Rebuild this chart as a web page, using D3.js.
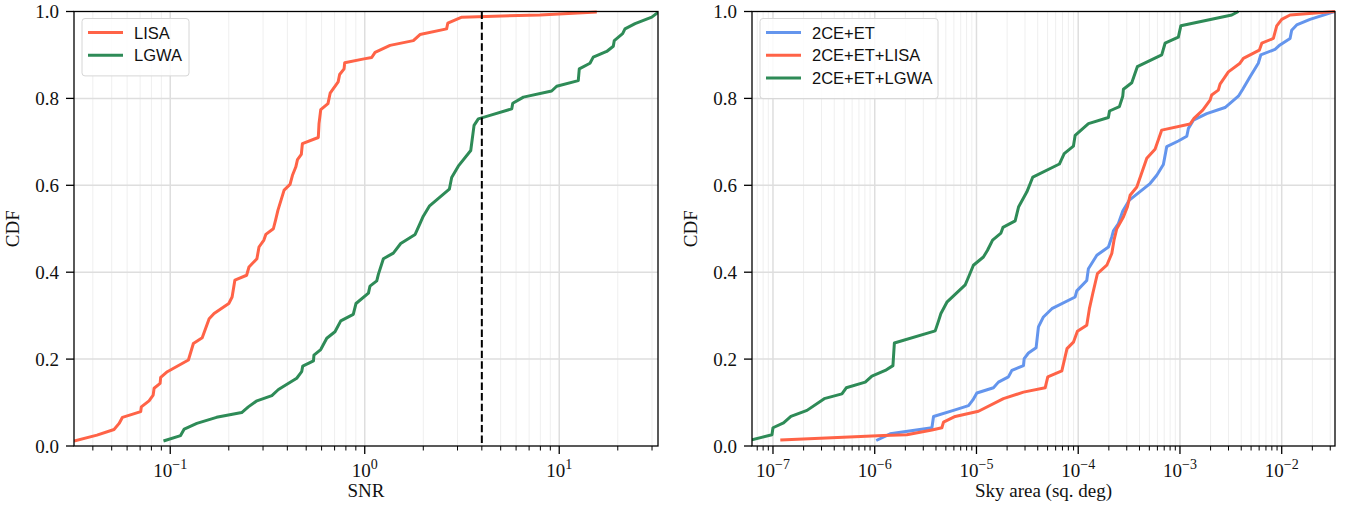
<!DOCTYPE html>
<html>
<head>
<meta charset="utf-8" />
<title>CDF</title>
<script src="https://d3js.org/d3.v7.min.js"></script>
<style>
  body { margin: 0; background: #fff; }
  svg text { fill: #111; }
</style>
</head>
<body>
<svg id="chart" width="1356" height="510"></svg>
<script>
// SNR cdf, left panel
const lisaSnr = [0.032, 0.042, 0.0514, 0.0546, 0.0568, 0.0705, 0.0710, 0.0778, 0.0817, 0.0826,
  0.0887, 0.0893, 0.0966, 0.124, 0.1315, 0.146, 0.1585, 0.168, 0.200, 0.208,
  0.215, 0.247, 0.254, 0.279, 0.286, 0.303, 0.310, 0.339, 0.348, 0.358,
  0.385, 0.413, 0.425, 0.442, 0.451, 0.472, 0.478, 0.577, 0.582, 0.594,
  0.647, 0.664, 0.730, 0.743, 0.783, 0.789, 0.991, 1.086, 1.130, 1.349,
  1.778, 1.923, 2.636, 2.673, 3.155, 7.96, 15.6];
const lisaCdf = [0.0115, 0.025, 0.038, 0.052, 0.066, 0.079, 0.090, 0.104, 0.117, 0.133,
  0.144, 0.158, 0.171, 0.198, 0.236, 0.249, 0.293, 0.305, 0.328, 0.343,
  0.382, 0.393, 0.412, 0.431, 0.458, 0.474, 0.487, 0.500, 0.520, 0.543,
  0.589, 0.602, 0.623, 0.642, 0.659, 0.671, 0.696, 0.710, 0.742, 0.774,
  0.788, 0.812, 0.838, 0.855, 0.868, 0.882, 0.891, 0.894, 0.906, 0.922,
  0.933, 0.947, 0.960, 0.973, 0.987, 0.992, 0.999];

const lgwaSnr = [0.0923, 0.113, 0.118, 0.137, 0.173, 0.233, 0.252, 0.279, 0.333, 0.360,
  0.447, 0.474, 0.480, 0.545, 0.548, 0.594, 0.638, 0.703, 0.753, 0.873,
  0.902, 1.045, 1.064, 1.153, 1.175, 1.247, 1.403, 1.531, 1.816, 1.923,
  2.000, 2.148, 2.723, 2.799, 3.027, 3.508, 3.648, 3.837, 4.406, 5.702,
  5.768, 6.546, 9.141, 9.705, 12.53, 12.68, 14.39, 14.96, 17.54, 18.97,
  19.19, 21.18, 21.78, 24.55, 29.92, 32.2];
const lgwaCdf = [0.0115, 0.024, 0.039, 0.052, 0.066, 0.077, 0.090, 0.104, 0.116, 0.130,
  0.156, 0.171, 0.184, 0.196, 0.209, 0.222, 0.248, 0.263, 0.288, 0.303,
  0.328, 0.352, 0.368, 0.380, 0.395, 0.431, 0.444, 0.466, 0.487, 0.512,
  0.529, 0.552, 0.591, 0.618, 0.644, 0.680, 0.738, 0.753, 0.761, 0.776,
  0.789, 0.803, 0.817, 0.828, 0.841, 0.868, 0.881, 0.895, 0.908, 0.920,
  0.933, 0.949, 0.960, 0.972, 0.987, 0.998];

const snrThreshold = 4;

// sky area cdf, right panel
const etArea = [1.035e-6, 1.419e-6, 3.648e-6, 3.784e-6, 5.943e-6, 8.356e-6, 9.226e-6, 1.009e-5, 1.469e-5, 1.644e-5,
  2.061e-5, 2.228e-5, 2.897e-5, 2.944e-5, 3.243e-5, 3.855e-5, 4.064e-5, 4.550e-5, 5.508e-5, 9.33e-5,
  9.68e-5, 1.213e-4, 1.259e-4, 1.524e-4, 1.982e-4, 2.138e-4, 2.218e-4, 2.483e-4, 2.742e-4, 3.184e-4,
  5.082e-4, 5.916e-4, 6.871e-4, 7.413e-4, 9.64e-4, 1.167e-3, 1.211e-3, 1.355e-3, 1.832e-3, 2.773e-3,
  3.750e-3, 4.140e-3, 4.887e-3, 5.888e-3, 6.223e-3, 8.590e-3, 9.616e-3, 1.208e-2, 1.253e-2, 1.403e-2,
  1.897e-2, 3.342e-2];
const etCdf = [0.0127, 0.028, 0.042, 0.068, 0.082, 0.093, 0.106, 0.122, 0.134, 0.147,
  0.159, 0.174, 0.185, 0.201, 0.214, 0.226, 0.274, 0.297, 0.316, 0.343,
  0.357, 0.381, 0.408, 0.439, 0.458, 0.481, 0.495, 0.512, 0.541, 0.566,
  0.604, 0.623, 0.648, 0.689, 0.702, 0.713, 0.731, 0.750, 0.765, 0.779,
  0.805, 0.821, 0.850, 0.881, 0.900, 0.913, 0.923, 0.938, 0.957, 0.969,
  0.982, 1.0];

const etLisaArea = [1.180e-7, 1.219e-6, 2.070e-6, 3.648e-6, 4.571e-6, 4.742e-6, 6.180e-6, 1.047e-5, 1.841e-5, 2.897e-5,
  4.732e-5, 5.023e-5, 6.902e-5, 7.76e-5, 8.97e-5, 9.82e-5, 1.213e-4, 1.288e-4, 1.390e-4, 1.545e-4,
  1.910e-4, 2.138e-4, 2.254e-4, 2.393e-4, 2.780e-4, 3.041e-4, 3.236e-4, 3.767e-4, 4.721e-4, 5.689e-4,
  6.62e-4, 1.256e-3, 1.374e-3, 1.675e-3, 1.977e-3, 2.051e-3, 2.382e-3, 2.477e-3, 2.992e-3, 3.890e-3,
  4.198e-3, 6.026e-3, 6.368e-3, 8.279e-3, 8.933e-3, 1.0e-2, 1.208e-2, 3.342e-2];
const etLisaCdf = [0.014, 0.024, 0.026, 0.037, 0.042, 0.055, 0.068, 0.080, 0.109, 0.124,
  0.134, 0.159, 0.173, 0.224, 0.239, 0.264, 0.278, 0.316, 0.351, 0.397,
  0.416, 0.443, 0.475, 0.500, 0.527, 0.550, 0.577, 0.596, 0.662, 0.683,
  0.727, 0.741, 0.754, 0.773, 0.796, 0.808, 0.819, 0.833, 0.861, 0.881,
  0.892, 0.911, 0.927, 0.938, 0.967, 0.982, 0.992, 1.0];

const etLgwaArea = [6.2e-8, 9.77e-8, 1.0e-7, 1.27e-7, 1.50e-7, 2.16e-7, 3.19e-7, 4.76e-7, 5.25e-7, 8.07e-7,
  9.38e-7, 1.27e-6, 1.51e-6, 1.56e-6, 3.93e-6, 4.24e-6, 4.47e-6, 5.12e-6, 7.75e-6, 8.36e-6,
  9.33e-6, 1.17e-5, 1.28e-5, 1.44e-5, 1.74e-5, 1.82e-5, 2.40e-5, 2.59e-5, 3.13e-5, 3.58e-5,
  6.53e-5, 7.28e-5, 8.97e-5, 9.33e-5, 1.26e-4, 1.98e-4, 2.03e-4, 2.54e-4, 2.74e-4, 2.78e-4,
  3.36e-4, 3.81e-4, 6.62e-4, 7.14e-4, 9.64e-4, 1.02e-3, 3.23e-3, 3.75e-3];
const etLgwaCdf = [0.014, 0.026, 0.042, 0.053, 0.068, 0.082, 0.109, 0.120, 0.134, 0.147,
  0.161, 0.174, 0.185, 0.237, 0.265, 0.288, 0.305, 0.331, 0.371, 0.389,
  0.416, 0.435, 0.450, 0.474, 0.490, 0.503, 0.518, 0.550, 0.585, 0.619,
  0.649, 0.673, 0.690, 0.715, 0.742, 0.756, 0.771, 0.781, 0.805, 0.821,
  0.836, 0.873, 0.900, 0.927, 0.941, 0.967, 0.992, 1.0];

const cdfTicks = [0, 0.2, 0.4, 0.6, 0.8, 1.0];

const RED = '#ff6347', GREEN = '#2e8b57', BLUE = '#6495ed';
const serif = "'Liberation Serif', 'DejaVu Serif', serif";
const sans = "'Liberation Sans', Arial, sans-serif";

const svg = d3.select('#chart');
const plotTop = 11.5, plotBottom = 446;

function zip(xs, ys) { return xs.map((x, i) => ({ x: x, y: ys[i] })); }

function drawPanel(p) {
  const x = d3.scaleLog().domain(p.domain).range([p.left, p.right]);
  const y = d3.scaleLinear().domain([0, 1]).range([plotBottom, plotTop]);
  const g = svg.append('g');

  // minor ticks for the log axis
  const lo = Math.floor(Math.log10(p.domain[0])), hi = Math.ceil(Math.log10(p.domain[1]));
  const minor = [], major = [];
  for (let k = lo; k <= hi; k++) {
    const d = Math.pow(10, k);
    if (d >= p.domain[0] && d <= p.domain[1]) major.push(d);
    for (let m = 2; m <= 9; m++) {
      const v = m * d;
      if (v >= p.domain[0] && v <= p.domain[1]) minor.push(v);
    }
  }

  // grid
  g.selectAll('.minor-grid').data(minor).join('line')
    .attr('x1', d => x(d)).attr('x2', d => x(d))
    .attr('y1', plotTop).attr('y2', plotBottom)
    .attr('stroke', '#efefef').attr('stroke-width', 1);
  g.selectAll('.major-grid').data(major).join('line')
    .attr('x1', d => x(d)).attr('x2', d => x(d))
    .attr('y1', plotTop).attr('y2', plotBottom)
    .attr('stroke', '#dedede').attr('stroke-width', 1.5);
  g.selectAll('.hgrid').data(cdfTicks.slice(1, -1)).join('line')
    .attr('x1', p.left).attr('x2', p.right)
    .attr('y1', d => y(d)).attr('y2', d => y(d))
    .attr('stroke', '#dedede').attr('stroke-width', 1.5);

  // curves
  const line = d3.line().x(d => x(d.x)).y(d => y(d.y));
  const clipId = 'clip' + p.left;
  svg.append('clipPath').attr('id', clipId).append('rect')
    .attr('x', p.left).attr('y', plotTop - 2).attr('width', p.right - p.left).attr('height', plotBottom - plotTop + 2);
  const cg = g.append('g').attr('clip-path', `url(#${clipId})`);
  p.series.forEach(s => {
    cg.append('path').datum(zip(s.x, s.y))
      .attr('d', line).attr('fill', 'none')
      .attr('stroke', s.color).attr('stroke-width', 3)
      .attr('stroke-linejoin', 'round');
  });
  if (p.vline) {
    cg.append('line')
      .attr('x1', x(p.vline)).attr('x2', x(p.vline))
      .attr('y1', plotTop).attr('y2', plotBottom)
      .attr('stroke', '#000').attr('stroke-width', 2)
      .attr('stroke-dasharray', '7.4,3.2');
  }

  // frame
  g.append('rect').attr('x', p.left).attr('y', plotTop)
    .attr('width', p.right - p.left).attr('height', plotBottom - plotTop)
    .attr('fill', 'none').attr('stroke', '#000').attr('stroke-width', 1.3);

  // x axis ticks
  g.selectAll('.xminor').data(minor).join('line')
    .attr('x1', d => x(d)).attr('x2', d => x(d))
    .attr('y1', plotBottom).attr('y2', plotBottom + 4.5)
    .attr('stroke', '#000').attr('stroke-width', 1);
  g.selectAll('.xmajor').data(major).join('line')
    .attr('x1', d => x(d)).attr('x2', d => x(d))
    .attr('y1', plotBottom).attr('y2', plotBottom + 8)
    .attr('stroke', '#000').attr('stroke-width', 1.3);
  const lab = g.selectAll('.xlab').data(major).join('text')
    .attr('x', d => x(d)).attr('y', plotBottom + 31)
    .attr('text-anchor', 'middle')
    .style('font-family', serif).style('font-size', '19px');
  lab.append('tspan').text('10');
  lab.append('tspan').attr('dy', -8).style('font-size', '14px')
    .text(d => { const e = Math.round(Math.log10(d)); return e < 0 ? '\u2212' + (-e) : String(e); });

  // y axis ticks
  g.selectAll('.ytick').data(cdfTicks).join('line')
    .attr('x1', p.left - 8).attr('x2', p.left)
    .attr('y1', d => y(d)).attr('y2', d => y(d))
    .attr('stroke', '#000').attr('stroke-width', 1.3);
  g.selectAll('.ylab').data(cdfTicks).join('text')
    .attr('x', p.left - 15).attr('y', d => y(d) + 6.5)
    .attr('text-anchor', 'end')
    .style('font-family', serif).style('font-size', '19px')
    .text(d => d.toFixed(1));

  // axis titles
  g.append('text').attr('x', (p.left + p.right) / 2).attr('y', 497)
    .attr('text-anchor', 'middle')
    .style('font-family', serif).style('font-size', '19px')
    .text(p.xlabel);
  g.append('text')
    .attr('transform', `translate(${p.left - 55},${(plotTop + plotBottom) / 2}) rotate(-90)`)
    .attr('text-anchor', 'middle')
    .style('font-family', serif).style('font-size', '19px')
    .text('CDF');

  // legend
  const lg = g.append('g').attr('transform', `translate(${p.left + 8},${plotTop + 7})`);
  const rowH = 22.7;
  lg.append('rect').attr('x', 0).attr('y', 0)
    .attr('width', p.legendW).attr('height', 12 + rowH * p.series.length)
    .attr('rx', 3).attr('fill', 'rgba(255,255,255,0.85)')
    .attr('stroke', '#d6d6d6').attr('stroke-width', 1);
  p.series.forEach((s, i) => {
    const cy = 14 + rowH * i;
    lg.append('line').attr('x1', 6).attr('x2', 41).attr('y1', cy).attr('y2', cy)
      .attr('stroke', s.color).attr('stroke-width', 3);
    lg.append('text').attr('x', 52).attr('y', cy + 6)
      .style('font-family', sans).style('font-size', '16.5px')
      .text(s.name);
  });
}

drawPanel({
  left: 74, right: 658, domain: [0.032, 32.2], xlabel: 'SNR', vline: snrThreshold, legendW: 107,
  series: [
    { name: 'LISA', x: lisaSnr, y: lisaCdf, color: RED },
    { name: 'LGWA', x: lgwaSnr, y: lgwaCdf, color: GREEN }
  ]
});

drawPanel({
  left: 752, right: 1335, domain: [6.22e-8, 3.34e-2], xlabel: 'Sky area (sq. deg)', legendW: 178,
  series: [
    { name: '2CE+ET', x: etArea, y: etCdf, color: BLUE },
    { name: '2CE+ET+LISA', x: etLisaArea, y: etLisaCdf, color: RED },
    { name: '2CE+ET+LGWA', x: etLgwaArea, y: etLgwaCdf, color: GREEN }
  ]
});
</script>
</body>
</html>
